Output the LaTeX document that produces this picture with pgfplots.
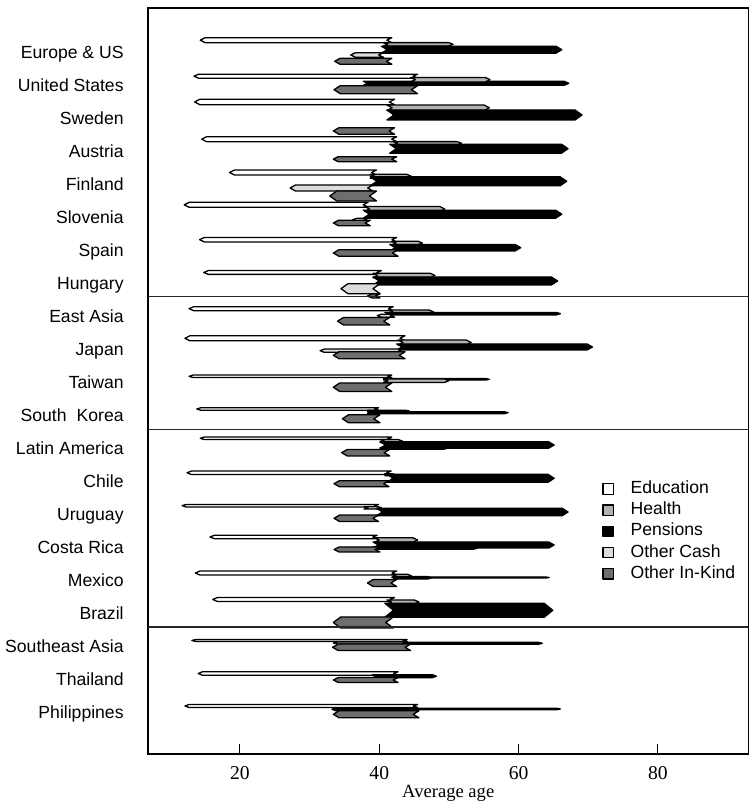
\documentclass[border=0pt]{standalone}
\usepackage{pgfplots}
\pgfplotsset{compat=1.18}
\usepackage{fontspec}
\setmainfont{Liberation Serif}
\newfontfamily\sansf{Liberation Sans}

\definecolor{healthc}{HTML}{B2B2B2}
\definecolor{cashc}{HTML}{DCDCDC}
\definecolor{kindc}{HTML}{6E6E6E}

\pgfplotsset{
  flowbase/.style={draw=black, line width=0.65pt, line join=round},
  edu/.style={flowbase, fill=white},
  hea/.style={flowbase, fill=healthc},
  pen/.style={flowbase, fill=black},
  csh/.style={flowbase, fill=cashc},
  knd/.style={flowbase, fill=kindc},
  sq/.style={legend image code/.code={\draw[##1, line width=0.6pt] (0pt,-2.6pt) rectangle (5.2pt,2.6pt);}},
}

% #1 style, #2 centre (px from top), #3 width (px), #4 tail age, #5 head age
\newcommand{\flow}[5]{%
  \pgfmathsetmacro\fyc{-(#2)}%
  \pgfmathsetmacro\fya{-(#2)+(#3)/2}%
  \pgfmathsetmacro\fyb{-(#2)-(#3)/2}%
  \pgfmathsetmacro\fdir{(#5>#4)?1:-1}%
  \pgfmathsetmacro\fhl{\fdir*(3+0.4*(#3))/6.97}%
  \pgfmathsetmacro\fxh{#5-\fhl}%
  \pgfmathsetmacro\fxn{#4+\fhl}%
  \edef\ftmp{\noexpand\addplot[#1, forget plot] coordinates {(#4,\fya) (\fxh,\fya) (#5,\fyc) (\fxh,\fyb) (#4,\fyb) (\fxn,\fyc)} -- cycle;}%
  \ftmp
}
\newcommand{\divider}[1]{\addplot[black!85, line width=0.75pt, forget plot] coordinates {(6.8,-#1) (93,-#1)};}

\begin{document}
\begin{tikzpicture}
\begin{axis}[
  name=ax,
  scale only axis,
  width=300.25pt, height=373pt,
  xmin=6.8, xmax=93, ymin=-754, ymax=-8,
  axis line style={line width=0.8pt},
  xtick={20,40,60,80}, xtick pos=left, tick align=inside,
  major tick length=5pt,
  x tick style={line width=0.5pt, black},
  /pgf/number format/assume math mode=true,
  xticklabel style={font=\fontsize{9.8}{11}\selectfont, anchor=base, yshift=-12.8pt},
  xlabel={Average age},
  xlabel style={font=\fontsize{9.3}{11}\selectfont, at={(axis description cs:0.5,0)}, anchor=base, yshift=-21.5pt},
  ytick={-712,-679,...,-52},
  yticklabels={Philippines,Thailand,Southeast Asia,Brazil,Mexico,Costa Rica,Uruguay,Chile,Latin America,South\hspace{5pt}Korea,Taiwan,Japan,East Asia,Hungary,Spain,Slovenia,Finland,Austria,Sweden,United States,Europe \& US},
  ytick pos=left,
  y tick style={draw=none},
  yticklabel style={font=\sansf\fontsize{8.8}{10}\selectfont, anchor=base east, inner sep=0pt, xshift=-12pt, yshift=-3.1pt},
  legend style={at={(axis description cs:0.756,0.367)}, anchor=north west, draw=none, fill=none, inner sep=0pt,
    font=\sansf\fontsize{8.8}{10}\selectfont, row sep=2.3pt,
    nodes={inner sep=0pt, text height=6.4pt, text depth=1.9pt},
    /tikz/every odd column/.append style={column sep=8.3pt}},
  legend cell align=left,
]
\addlegendimage{sq, edu}\addlegendentry{Education}
\addlegendimage{sq, hea}\addlegendentry{Health}
\addlegendimage{sq, pen}\addlegendentry{Pensions}
\addlegendimage{sq, csh}\addlegendentry{Other Cash}
\addlegendimage{sq, knd}\addlegendentry{Other In-Kind}

% Europe & US
\flow{edu}{40.2}{5}{41.8}{14.3}
\flow{hea}{44.3}{3.3}{40.6}{50.6}
\flow{pen}{49.7}{7}{40.3}{66.2}
\flow{csh}{55}{4.6}{40.6}{35.9}
\flow{knd}{61.3}{6}{41.8}{33.6}
% United States
\flow{edu}{76.2}{4}{45.5}{13.4}
\flow{pen}{83.3}{4}{37.7}{67.2}
\flow{hea}{79.7}{4.5}{44.5}{55.9}
\flow{knd}{89.7}{8}{45.5}{33.5}
% Sweden
\flow{edu}{102}{5.5}{42.2}{13.5}
\flow{hea}{107.8}{5.5}{41.1}{55.8}
\flow{pen}{115}{10}{41.1}{69.1}
\flow{knd}{131}{6.5}{42.2}{33.4}
% Austria
\flow{edu}{139.2}{5}{42.5}{14.5}
\flow{hea}{143.3}{3.3}{42.0}{51.8}
\flow{pen}{148.7}{9}{41.5}{67.1}
\flow{knd}{159.2}{5}{42.5}{33.4}
% Finland
\flow{edu}{172.5}{5}{39.6}{18.5}
\flow{hea}{176.3}{4}{38.7}{44.6}
\flow{pen}{181.3}{9}{38.7}{66.9}
\flow{csh}{188}{6}{39.1}{27.2}
\flow{knd}{196}{10}{39.6}{32.9}
% Slovenia
\flow{edu}{204.8}{5}{38.4}{12.0}
\flow{hea}{209}{5}{37.9}{49.4}
\flow{pen}{214.2}{8}{37.7}{66.2}
\flow{csh}{219.7}{2.7}{38.4}{36.2}
\flow{knd}{223}{5.5}{38.7}{33.4}
% Spain
\flow{edu}{239.7}{4.5}{42.5}{14.2}
\flow{hea}{243}{3.5}{41.8}{46.2}
\flow{pen}{247.7}{6.5}{41.5}{60.3}
\flow{knd}{253}{6.5}{42.7}{33.4}
% Hungary
\flow{edu}{272.5}{3.8}{40.3}{14.8}
\flow{hea}{275.5}{4.3}{39.1}{48.0}
\flow{pen}{281}{8}{39.1}{65.6}
\flow{csh}{288.7}{10}{40.1}{34.5}
\flow{knd}{296}{4}{40.1}{38.3}
% East Asia
\flow{edu}{308.7}{4}{42.0}{12.7}
\flow{hea}{312}{4}{41.3}{47.8}
\flow{pen}{313.7}{2.5}{40.8}{66.0}
\flow{csh}{315.7}{3}{42.2}{39.7}
\flow{knd}{321.2}{7.5}{41.5}{34.0}
% Japan
\flow{edu}{338.3}{5}{43.7}{12.1}
\flow{hea}{342.5}{5}{42.7}{53.2}
\flow{pen}{347}{6}{42.5}{70.6}
\flow{csh}{350.7}{3.3}{43.4}{31.5}
\flow{knd}{355.3}{7}{43.7}{33.4}
% Taiwan
\flow{edu}{376.3}{2.5}{41.8}{12.7}
\flow{pen}{379.3}{1.5}{40.6}{55.8}
\flow{hea}{380.7}{3.5}{40.6}{50.0}
\flow{knd}{387.2}{8.5}{41.8}{33.4}
% South Korea
\flow{edu}{409}{2.5}{39.9}{13.8}
\flow{hea}{411}{1.5}{38.3}{44.3}
\flow{pen}{412.7}{2}{38.3}{58.5}
\flow{knd}{418.8}{8}{40.1}{34.7}
% Latin America
\flow{edu}{438.3}{2.5}{41.8}{14.3}
\flow{hea}{441}{3}{40.1}{43.3}
\flow{pen}{448.5}{1.5}{40.1}{49.7}
\flow{pen}{445}{6.5}{40.1}{65.1}
\flow{knd}{452.7}{6.5}{41.5}{34.6}
% Chile
\flow{edu}{472.8}{3.5}{41.7}{12.4}
\flow{hea}{474.8}{2}{40.8}{42.4}
\flow{pen}{478.3}{8}{41.1}{65.1}
\flow{knd}{483.7}{6}{41.4}{33.5}
% Uruguay
\flow{edu}{505.7}{2.5}{39.9}{11.7}
\flow{hea}{507.8}{2.5}{37.8}{40.3}
\flow{pen}{512}{7.5}{39.6}{67.1}
\flow{knd}{518.3}{6.5}{39.9}{33.5}
% Costa Rica
\flow{edu}{537}{3.5}{39.7}{15.7}
\flow{hea}{540}{4.5}{39.3}{45.5}
\flow{pen}{548}{2.5}{39.1}{54.1}
\flow{pen}{545}{6}{39.1}{65.1}
\flow{knd}{549.5}{5}{40.1}{33.5}
% Mexico
\flow{edu}{573}{4}{42.5}{13.6}
\flow{hea}{575.7}{3}{41.8}{44.6}
\flow{pen}{577.8}{2.5}{42.0}{47.5}
\flow{pen}{577.5}{1}{42.0}{64.4}
\flow{knd}{583}{7}{42.5}{38.3}
% Brazil
\flow{edu}{599.5}{4}{42.2}{16.1}
\flow{hea}{602}{4}{41.1}{45.7}
\flow{pen}{610.3}{14}{40.8}{64.9}
\flow{knd}{622.5}{11}{42.0}{33.4}
% Southeast Asia
\flow{edu}{640.5}{2}{44.0}{13.1}
\flow{csh}{643}{2}{44.0}{33.4}
\flow{pen}{643.3}{2}{43.6}{63.4}
\flow{knd}{647.3}{6.5}{44.5}{33.3}
% Thailand
\flow{edu}{673.5}{3.5}{42.7}{14.0}
\flow{pen}{676.2}{3}{39.0}{48.2}
\flow{knd}{680}{5}{42.7}{33.4}
% Philippines
\flow{edu}{706}{3}{45.5}{12.1}
\flow{pen}{709.3}{3.3}{45.3}{33.2}
\flow{pen}{709}{1.5}{45.0}{66.0}
\flow{knd}{714.3}{7}{45.7}{33.4}

\divider{296.5}
\divider{429.3}
\divider{627}
\end{axis}
\pgfresetboundingbox
\useasboundingbox ([xshift=-74pt, yshift=-26pt]ax.south west) rectangle ([xshift=2.75pt, yshift=4pt]ax.north east);
\end{tikzpicture}
\end{document}
